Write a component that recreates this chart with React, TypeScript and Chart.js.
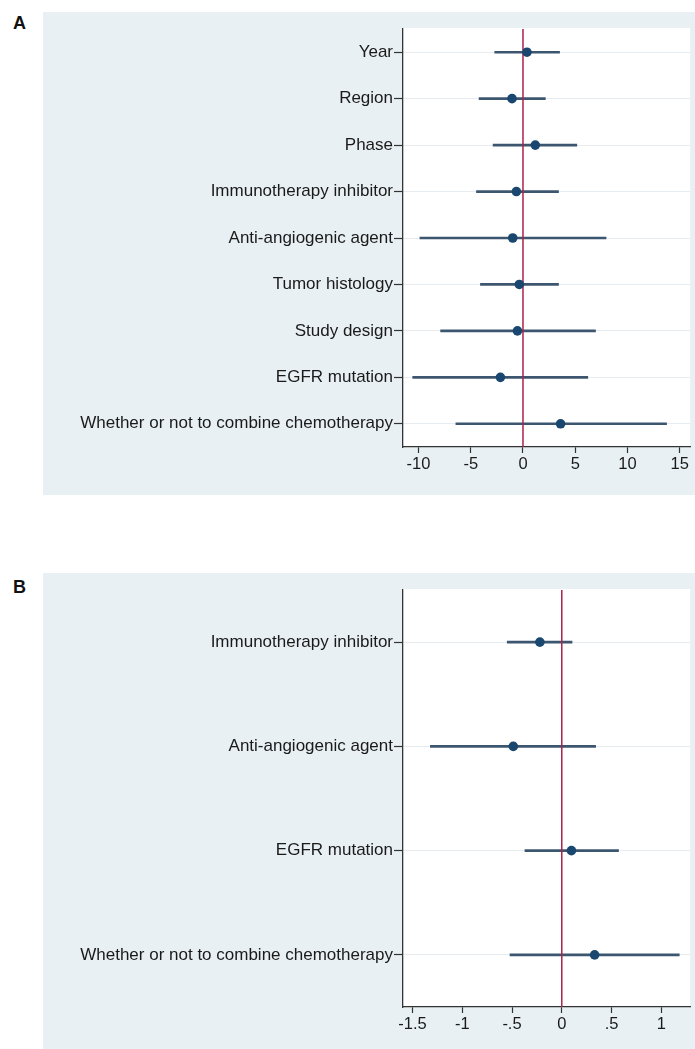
import React, { useEffect, useRef } from "react";
import { Chart, registerables } from "chart.js";

Chart.register(...registerables);

// Panel A: meta-regression covariates
const labelsA = [
  "Year",
  "Region",
  "Phase",
  "Immunotherapy inhibitor",
  "Anti-angiogenic agent",
  "Tumor histology",
  "Study design",
  "EGFR mutation",
  "Whether or not to combine chemotherapy",
];
const estA = [0.38, -1.05, 1.18, -0.63, -0.98, -0.35, -0.53, -2.16, 3.6];
const lowA = [-2.7, -4.2, -2.86, -4.45, -9.86, -4.07, -7.88, -10.55, -6.42];
const highA = [3.5, 2.14, 5.15, 3.4, 7.95, 3.4, 6.94, 6.2, 13.74];
const ticksA = [-10, -5, 0, 5, 10, 15];
const tickLabelsA = ["-10", "-5", "0", "5", "10", "15"];

// Panel B: subset of covariates
const labelsB = [
  "Immunotherapy inhibitor",
  "Anti-angiogenic agent",
  "EGFR mutation",
  "Whether or not to combine chemotherapy",
];
const estB = [-0.22, -0.487, 0.097, 0.33];
const lowB = [-0.548, -1.32, -0.37, -0.52];
const highB = [0.103, 0.34, 0.57, 1.18];
const ticksB = [-1.5, -1, -0.5, 0, 0.5, 1];
const tickLabelsB = ["-1.5", "-1", "-.5", "0", ".5", "1"];

const REF_VALUE = 0;

const FONT = "'Liberation Sans', Arial, Helvetica, sans-serif";
const TEXT = "#1a1a1a";
const AXIS = "#333333";
const BG = "#e8f0f3";
const POINT = "#1a476f";
const CI = "#3d5670";
const REF = "#a8234a";

const plotBackground = {
  id: "plotBackground",
  beforeDraw(chart: any) {
    const { ctx, chartArea: a } = chart;
    ctx.save();
    ctx.fillStyle = "#ffffff";
    ctx.fillRect(a.left, a.top - 1, a.right - a.left, a.bottom - a.top + 1);
    ctx.restore();
  },
};

// reference line drawn above the interval bars but below the estimate markers
const refLine = {
  id: "refLine",
  afterDatasetDraw(chart: any, args: any) {
    if (args.index !== 1) return;
    const { ctx, chartArea: a } = chart;
    const x = chart.scales.x.getPixelForValue(REF_VALUE);
    ctx.save();
    ctx.strokeStyle = REF;
    ctx.lineWidth = 1.5;
    ctx.beginPath();
    ctx.moveTo(x, a.top);
    ctx.lineTo(x, a.bottom);
    ctx.stroke();
    ctx.restore();
  },
};

type PanelProps = {
  labels: string[];
  est: number[];
  low: number[];
  high: number[];
  ticks: number[];
  tickLabels: string[];
  xMin: number;
  xMax: number;
  left: number;
  top: number;
  width: number;
  height: number;
  axisHeight: number;
};

function ForestPanel(p: PanelProps) {
  const ref = useRef<HTMLCanvasElement | null>(null);

  useEffect(() => {
    if (!ref.current) return;
    const chart = new Chart(ref.current, {
      type: "bar",
      data: {
        labels: p.labels,
        datasets: [
          {
            type: "line",
            indexAxis: "y",
            data: p.est.map((v, i) => ({ x: v, y: p.labels[i] })),
            showLine: false,
            pointRadius: 4.8,
            pointBackgroundColor: POINT,
            pointBorderColor: POINT,
            pointBorderWidth: 0,
          } as any,
          {
            type: "bar",
            data: p.low.map((l, i) => [l, p.high[i]]),
            backgroundColor: CI,
            barThickness: 2,
            borderWidth: 0,
          } as any,
        ],
      },
      options: {
        indexAxis: "y",
        animation: false,
        responsive: false,
        layout: { padding: { top: 17, right: 4, left: 0, bottom: 0 } },
        plugins: { legend: { display: false }, tooltip: { enabled: false } },
        scales: {
          x: {
            type: "linear",
            min: p.xMin,
            max: p.xMax,
            afterBuildTicks: (s: any) => {
              s.ticks = p.ticks.map((v) => ({ value: v }));
            },
            afterFit: (s: any) => {
              s.height = p.axisHeight;
            },
            ticks: {
              callback: (_v: any, i: number) => p.tickLabels[i],
              font: { family: FONT, size: 16.5 },
              color: TEXT,
              padding: 2,
              autoSkip: false,
              maxRotation: 0,
            },
            grid: {
              drawOnChartArea: false,
              drawTicks: true,
              tickLength: 6,
              tickColor: AXIS,
              tickWidth: 1.2,
            },
            border: { display: true, color: AXIS, width: 1.3 },
          },
          y: {
            type: "category",
            offset: true,
            afterFit: (s: any) => {
              s.width = 360;
            },
            ticks: {
              font: { family: FONT, size: 17 },
              color: TEXT,
              padding: 1,
              autoSkip: false,
            },
            grid: {
              offset: false,
              color: "#e6ecf0",
              lineWidth: 1,
              tickLength: 9,
              tickColor: AXIS,
              tickWidth: 1.2,
            },
            border: { display: true, color: AXIS, width: 1.3 },
          },
        },
      } as any,
      plugins: [plotBackground, refLine],
    });
    return () => chart.destroy();
  }, []);

  return (
    <div
      style={{
        position: "absolute",
        left: p.left,
        top: p.top,
        width: p.width,
        height: p.height,
        background: BG,
      }}
    >
      <canvas ref={ref} width={p.width} height={p.height} style={{ display: "block" }} />
    </div>
  );
}

const letterStyle: React.CSSProperties = {
  position: "absolute",
  left: 13,
  fontFamily: FONT,
  fontWeight: "bold",
  fontSize: 18,
  lineHeight: "18px",
  color: "#111",
};

export default function App() {
  return (
    <div
      style={{
        position: "absolute",
        left: 0,
        top: 0,
        width: 695,
        height: 1049,
        background: "#ffffff",
        overflow: "hidden",
      }}
    >
      <div style={{ ...letterStyle, top: 13.5 }}>A</div>
      <ForestPanel
        labels={labelsA}
        est={estA}
        low={lowA}
        high={highA}
        ticks={ticksA}
        tickLabels={tickLabelsA}
        xMin={-11.48}
        xMax={16.0}
        left={43}
        top={12}
        width={652}
        height={483}
        axisHeight={48}
      />
      <div style={{ ...letterStyle, top: 578 }}>B</div>
      <ForestPanel
        labels={labelsB}
        est={estB}
        low={lowB}
        high={highB}
        ticks={ticksB}
        tickLabels={tickLabelsB}
        xMin={-1.595}
        xMax={1.29}
        left={43}
        top={573}
        width={652}
        height={476}
        axisHeight={42}
      />
    </div>
  );
}
